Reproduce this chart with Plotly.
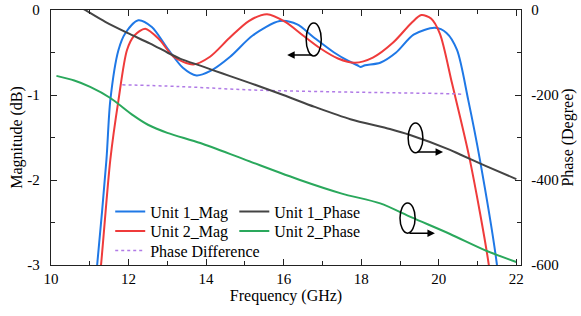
import plotly.graph_objects as go

# ---------------- data ----------------
u1_mag_f = [11.05, 11.19, 11.43, 11.53, 11.74, 11.92, 12.25, 12.6, 13.0, 13.4, 13.75, 14.1, 14.62, 15.2, 15.9, 16.35, 16.77, 17.3, 17.67, 17.9, 17.98, 18.1, 18.49, 18.9, 19.35, 19.9, 20.2, 20.47, 20.76, 21.06, 21.5, 21.6]
u1_mag_v = [-3.6, -3.0, -1.76, -1.06, -0.47, -0.27, -0.12, -0.2, -0.45, -0.68, -0.77, -0.72, -0.55, -0.3, -0.13, -0.17, -0.32, -0.5, -0.6, -0.65, -0.67, -0.65, -0.62, -0.5, -0.29, -0.21, -0.27, -0.47, -1.06, -1.76, -3.0, -3.5]

u2_mag_f = [11.15, 11.29, 11.53, 11.74, 11.96, 12.15, 12.43, 12.8, 13.16, 13.67, 14.1, 14.6, 15.1, 15.57, 16.04, 16.5, 16.94, 17.4, 17.84, 18.3, 18.83, 19.3, 19.55, 19.8, 20.03, 20.34, 20.8, 21.29, 21.4]
u2_mag_v = [-3.6, -3.0, -1.76, -1.06, -0.47, -0.3, -0.22, -0.35, -0.55, -0.64, -0.55, -0.33, -0.13, -0.05, -0.14, -0.3, -0.45, -0.57, -0.62, -0.56, -0.38, -0.15, -0.06, -0.1, -0.28, -0.86, -1.76, -3.0, -3.5]

u1_ph_f = [10.6, 10.88, 11.4, 11.97, 12.56, 13.0, 13.34, 13.85, 14.19, 14.6, 15.14, 15.99, 16.8, 17.72, 18.74, 19.26, 20.29, 20.55, 21.19, 22.0]
u1_ph_v = [15, 0, -28, -54, -79, -100, -115, -131, -142, -155, -172, -200, -228, -257, -280, -294, -329, -340, -366, -398]

u2_ph_f = [10.14, 10.6, 11.01, 11.53, 12.12, 12.5, 13.0, 13.85, 15.0, 16.42, 17.5, 18.49, 19.3, 20.29, 21.24, 22.0]
u2_ph_v = [-155, -166, -181, -207, -248, -270, -289, -313, -352, -400, -432, -455, -488, -527, -567, -593]

pd_f = [11.84, 13.3, 15.14, 17.0, 19.0, 20.3, 20.59]
pd_v = [-176, -180, -188, -192, -195, -197, -198]

x_ticks = [10, 12, 14, 16, 18, 20, 22]
y1_ticks = [0, -1, -2, -3]
y1_text = ["0", "-1", "-2", "-3"]
y2_ticks = [0, -200, -400, -600]
y2_text = ["0", "-200", "-400", "-600"]

FONT = "Times New Roman"
BLUE = "#1f78e6"
RED = "#ef3b3b"
GRAY = "#444444"
GREEN = "#2aa85c"
PURPLE = "#b07ae6"

fig = go.Figure()
fig.add_trace(go.Scatter(x=u1_mag_f, y=u1_mag_v, name="Unit 1_Mag", mode="lines",
                         line=dict(color=BLUE, width=2, shape="spline", smoothing=0.8), legend="legend"))
fig.add_trace(go.Scatter(x=u2_mag_f, y=u2_mag_v, name="Unit 2_Mag", mode="lines",
                         line=dict(color=RED, width=2, shape="spline", smoothing=0.8), legend="legend2"))
fig.add_trace(go.Scatter(x=pd_f, y=pd_v, name="Phase Difference", mode="lines", yaxis="y2",
                         line=dict(color=PURPLE, width=1.5, dash="dot", shape="spline"), legend="legend3"))
fig.add_trace(go.Scatter(x=u1_ph_f, y=u1_ph_v, name="Unit 1_Phase", mode="lines", yaxis="y2",
                         line=dict(color=GRAY, width=2, shape="spline", smoothing=0.8), legend="legend4"))
fig.add_trace(go.Scatter(x=u2_ph_f, y=u2_ph_v, name="Unit 2_Phase", mode="lines", yaxis="y2",
                         line=dict(color=GREEN, width=2, shape="spline", smoothing=0.8), legend="legend5"))

axis_common = dict(showline=True, linecolor="#222222", linewidth=1.3, ticks="inside",
                   ticklen=6, tickwidth=1.2, tickcolor="#222222", showgrid=False, zeroline=False,
                   tickfont=dict(family=FONT, size=15, color="black"))

def leg(x, y):
    return dict(x=x, y=y, xanchor="left", yanchor="middle", bgcolor="rgba(0,0,0,0)",
                font=dict(family=FONT, size=16, color="black"), itemwidth=30, borderwidth=0)

row_y = [0.209, 0.133, 0.056]
col_x = [0.126, 0.39]

fig.update_layout(
    width=581, height=316,
    margin=dict(l=51, r=60, t=10, b=51),
    paper_bgcolor="white", plot_bgcolor="white",
    font=dict(family=FONT, size=15, color="black"),
    xaxis=dict(range=[10, 22.12], tickvals=x_ticks, mirror="ticks", automargin="bottom",
               minor=dict(ticks="inside", ticklen=4, tickcolor="#222222", dtick=1, tick0=10),
               title=dict(text="Frequency (GHz)", font=dict(family=FONT, size=16), standoff=3),
               **axis_common),
    yaxis=dict(range=[-3, 0], tickvals=y1_ticks, ticktext=y1_text, ticklabelstandoff=7,
               automargin="left",
               minor=dict(ticks="inside", ticklen=4, tickcolor="#222222", dtick=0.5, tick0=0),
               title=dict(text="Magnitude (dB)", font=dict(family=FONT, size=16), standoff=0),
               **axis_common),
    yaxis2=dict(range=[-600, 0], overlaying="y", side="right", tickvals=y2_ticks, ticktext=y2_text,
                ticklabelstandoff=6, automargin="right",
                minor=dict(ticks="inside", ticklen=4, tickcolor="#222222", dtick=100, tick0=0),
                title=dict(text="Phase (Degree)", font=dict(family=FONT, size=16), standoff=3),
                **axis_common),
    legend=leg(col_x[0], row_y[0]),
    legend2=leg(col_x[0], row_y[1]),
    legend3=leg(col_x[0], row_y[2]),
    legend4=leg(col_x[1], row_y[0]),
    legend5=leg(col_x[1], row_y[1]),
    showlegend=True,
)

# ellipse markers + arrows (annotation shapes)
fig.add_shape(type="circle", xref="x", yref="y", x0=16.58, x1=16.97, y0=-0.541, y1=-0.153,
              line=dict(color="black", width=1.5))
fig.add_shape(type="circle", xref="x", yref="y2", x0=19.21, x1=19.59, y0=-336, y1=-266,
              line=dict(color="black", width=1.5))
fig.add_shape(type="circle", xref="x", yref="y2", x0=19.0, x1=19.39, y0=-525, y1=-454,
              line=dict(color="black", width=1.5))
fig.add_annotation(x=16.09, y=-0.53, xref="x", yref="y", ax=26, ay=0, showarrow=True,
                   arrowhead=2, arrowsize=1, arrowwidth=1.5, arrowcolor="black", text="")
fig.add_annotation(x=20.11, y=-334, xref="x", yref="y2", ax=-27, ay=0, showarrow=True,
                   arrowhead=2, arrowsize=1, arrowwidth=1.5, arrowcolor="black", text="")
fig.add_annotation(x=19.9, y=-525, xref="x", yref="y2", ax=-27, ay=0, showarrow=True,
                   arrowhead=2, arrowsize=1, arrowwidth=1.5, arrowcolor="black", text="")

fig.write_html("out.html", config={"displayModeBar": False},
               post_script="document.body.style.margin='0';document.body.style.overflow='hidden';")
